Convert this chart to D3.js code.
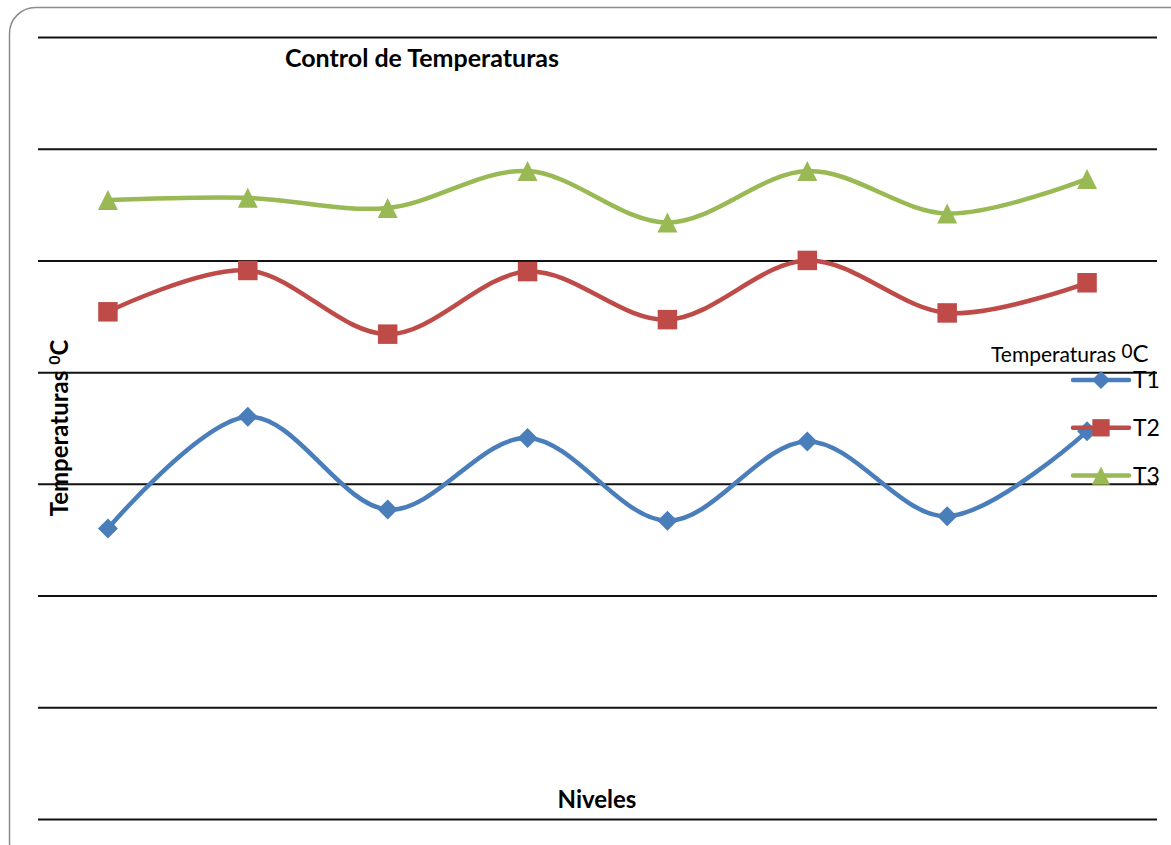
<!DOCTYPE html>
<html>
<head>
<meta charset="utf-8">
<script src="https://cdn.jsdelivr.net/npm/d3@7"></script>
<style>
  body { margin: 0; background: #fff; }
  svg { display: block; font-family: Lato, 'Open Sans', sans-serif; }
</style>
</head>
<body>
<div id="chart"></div>
<script>
// data
const niveles = ['1', '2', '3', '4', '5', '6', '7', '8'];
const t1 = [26.0, 36.0, 27.7, 34.1, 26.7, 33.8, 27.1, 34.7];
const t2 = [45.4, 49.1, 43.4, 49.0, 44.7, 50.0, 45.3, 48.0];
const t3 = [55.4, 55.6, 54.7, 58.0, 53.4, 58.0, 54.2, 57.3];
const yTicks = [0, 10, 20, 30, 40, 50, 60, 70];
const seriesNames = ['T1', 'T2', 'T3'];

const width = 1171;
const height = 845;
const plot = { left: 38, right: 1157, top: 37, bottom: 819 };

const colors = ['#4a7ebb', '#be4b48', '#98b954'];

// excel-like markers
const diamond = {
  draw(ctx, size) {
    const r = Math.sqrt(size) / 2;
    ctx.moveTo(0, -r); ctx.lineTo(r, 0); ctx.lineTo(0, r); ctx.lineTo(-r, 0); ctx.closePath();
  }
};
const square = {
  draw(ctx, size) {
    const r = Math.sqrt(size) / 2;
    ctx.rect(-r, -r, 2 * r, 2 * r);
  }
};
const triangle = {
  draw(ctx, size) {
    const r = Math.sqrt(size) / 2;
    ctx.moveTo(0, -r); ctx.lineTo(r, r); ctx.lineTo(-r, r); ctx.closePath();
  }
};
const shapes = [diamond, square, triangle];

const series = [t1, t2, t3].map((values, i) => ({
  name: seriesNames[i],
  color: colors[i],
  shape: shapes[i],
  values: values.map((v, j) => ({ nivel: niveles[j], value: v }))
}));

const svg = d3.select('#chart')
  .append('svg')
  .attr('width', width)
  .attr('height', height);

// outer rounded frame
svg.append('rect')
  .attr('x', 9.5)
  .attr('y', 7.5)
  .attr('width', 1190)
  .attr('height', 860)
  .attr('rx', 26)
  .attr('fill', '#fff')
  .attr('stroke', '#8c8c8c')
  .attr('stroke-width', 1.5);

const x = d3.scaleBand()
  .domain(niveles)
  .range([plot.left, plot.right]);

const y = d3.scaleLinear()
  .domain([0, 70])
  .range([plot.bottom, plot.top]);

const cx = d => x(d.nivel) + x.bandwidth() / 2;

// gridlines
const grid = svg.append('g')
  .attr('transform', `translate(${plot.left},0)`)
  .call(d3.axisLeft(y)
    .tickValues(yTicks)
    .tickSize(-(plot.right - plot.left))
    .tickFormat(''));
grid.select('.domain').remove();
grid.selectAll('line')
  .attr('stroke', '#111')
  .attr('stroke-width', 2);

const line = d3.line()
  .x(cx)
  .y(d => y(d.value))
  .curve(d3.curveCardinal.tension(0));

const g = svg.selectAll('.serie')
  .data(series)
  .enter()
  .append('g')
  .attr('class', 'serie');

g.append('path')
  .attr('d', d => line(d.values))
  .attr('fill', 'none')
  .attr('stroke', d => d.color)
  .attr('stroke-width', 4.5)
  .attr('stroke-linejoin', 'round');

g.each(function(s) {
  d3.select(this)
    .selectAll('.marker')
    .data(s.values)
    .enter()
    .append('path')
    .attr('class', 'marker')
    .attr('transform', d => `translate(${cx(d)},${y(d.value)})`)
    .attr('d', d3.symbol().type(s.shape).size(s.shape === square ? 380 : 400))
    .attr('fill', s.color);
});

// title
svg.append('text')
  .attr('x', 422)
  .attr('y', 67)
  .attr('text-anchor', 'middle')
  .attr('font-weight', 'bold')
  .attr('font-size', '25px')
  .text('Control de Temperaturas');

// x label
svg.append('text')
  .attr('x', 597)
  .attr('y', 808)
  .attr('text-anchor', 'middle')
  .attr('font-weight', 'bold')
  .attr('font-size', '24px')
  .text('Niveles');

// y label
const yLabel = svg.append('text')
  .attr('transform', 'translate(68,428) rotate(-90)')
  .attr('text-anchor', 'middle')
  .attr('font-weight', 'bold')
  .attr('font-size', '24px');
yLabel.append('tspan').text('Temperaturas ');
yLabel.append('tspan').attr('dy', -8).attr('font-size', '16px').text('0');
yLabel.append('tspan').attr('dy', 8).text('C');

// legend
const legTitle = svg.append('text')
  .attr('x', 991)
  .attr('y', 362)
  .attr('font-size', '21px');
legTitle.append('tspan').text('Temperaturas ');
legTitle.append('tspan').attr('dy', -4).attr('font-size', '19px').text('0');
legTitle.append('tspan').attr('dy', 4).attr('font-size', '24px').text('C');

const legend = svg.selectAll('.legend')
  .data(series)
  .enter()
  .append('g')
  .attr('class', 'legend')
  .attr('transform', (d, i) => `translate(1073,${380 + i * 47.8})`);

legend.append('line')
  .attr('x1', 0)
  .attr('x2', 56)
  .attr('stroke', d => d.color)
  .attr('stroke-width', 4.5)
  .attr('stroke-linecap', 'round');

legend.append('path')
  .attr('transform', 'translate(28,0)')
  .attr('d', d => d3.symbol().type(d.shape).size(d.shape === square ? 300 : 330)())
  .attr('fill', d => d.color);

legend.append('text')
  .attr('x', 60)
  .attr('y', 8)
  .attr('font-size', '23px')
  .text(d => d.name);
</script>
</body>
</html>
